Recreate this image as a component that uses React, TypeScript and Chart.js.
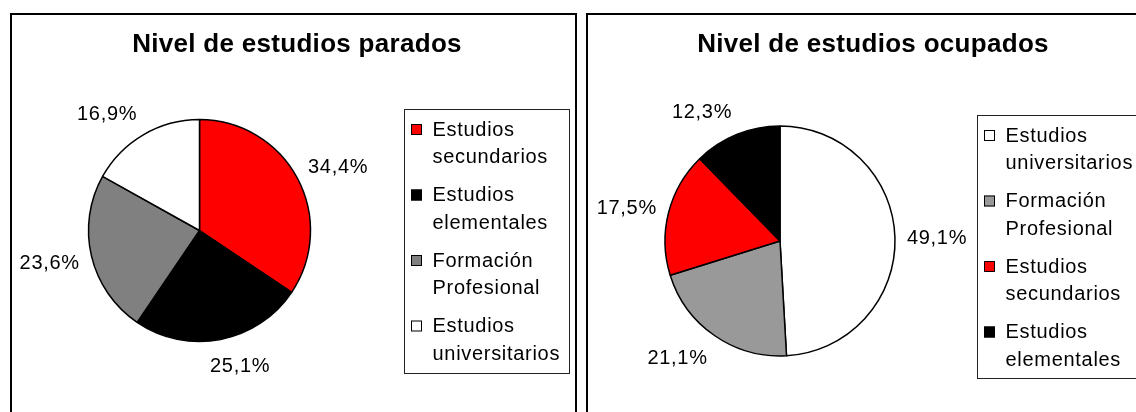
import React, { useEffect, useRef } from "react";
import { Chart, registerables } from "chart.js";

Chart.register(...registerables);

// ---------- data ----------
const paradosTitle = "Nivel de estudios parados";
const paradosCategories = [
  "Estudios secundarios",
  "Estudios elementales",
  "Formación Profesional",
  "Estudios universitarios",
];
const paradosValues = [34.4, 25.1, 23.6, 16.9];
const paradosColors = ["#FF0000", "#000000", "#808080", "#FFFFFF"];

const ocupadosTitle = "Nivel de estudios ocupados";
const ocupadosCategories = [
  "Estudios universitarios",
  "Formación Profesional",
  "Estudios secundarios",
  "Estudios elementales",
];
const ocupadosValues = [49.1, 21.1, 17.5, 12.3];
const ocupadosColors = ["#FFFFFF", "#999999", "#FF0000", "#000000"];

const FONT = "Arial, 'Liberation Sans', sans-serif";

const fmtPct = (v: number) => v.toFixed(1).replace(".", ",") + "%";
const splitLabel = (s: string) => {
  const i = s.indexOf(" ");
  return i < 0 ? [s] : [s.slice(0, i), s.slice(i + 1)];
};

type PanelCfg = {
  title: string;
  categories: string[];
  values: number[];
  colors: string[];
  radius: number;
  padding: { left: number; right: number; top: number; bottom: number };
  legendBox: { x: number; y: number; w: number; h: number };
};

function makeDecorPlugin(cfg: PanelCfg) {
  return {
    id: "panelDecor",
    afterDatasetsDraw(chart: any) {
      const ctx: CanvasRenderingContext2D = chart.ctx;
      ctx.save();
      // title
      ctx.fillStyle = "#000";
      ctx.font = `bold 26px ${FONT}`;
      (ctx as any).letterSpacing = "0.3px";
      ctx.textAlign = "center";
      ctx.textBaseline = "alphabetic";
      ctx.fillText(cfg.title, 285, 37);

      // data labels outside each slice ("outside end" style placement)
      ctx.font = `20px ${FONT}`;
      (ctx as any).letterSpacing = "0.7px";
      const meta = chart.getDatasetMeta(0);
      const gap = 12;
      const boxH = 28;
      const glyphH = 14.5;
      meta.data.forEach((arc: any, i: number) => {
        const p = arc.getProps(["x", "y", "startAngle", "endAngle", "outerRadius"], true);
        const mid = (p.startAngle + p.endAngle) / 2;
        const text = fmtPct(cfg.values[i]);
        const w = ctx.measureText(text).width;
        const R = p.outerRadius + gap;
        const c = Math.cos(mid);
        const s = Math.sin(mid);
        const kx = Math.max(-1, Math.min(1, 3 * c));
        const cx = p.x + c * R + (kx * w) / 2;
        const cy = p.y + s * R + (s * boxH) / 2;
        ctx.textAlign = "center";
        ctx.fillText(text, cx, cy + glyphH / 2);
      });

      // legend box
      const lb = cfg.legendBox;
      ctx.lineWidth = 1;
      ctx.strokeStyle = "#222";
      ctx.strokeRect(lb.x + 0.5, lb.y + 0.5, lb.w, lb.h);
      ctx.textAlign = "left";
      const pitch = 65.5;
      const lineH = 27.7;
      cfg.categories.forEach((cat, i) => {
        const base = lb.y + 26.5 + i * pitch;
        const mx = lb.x + 7;
        const my = base - 11.5;
        ctx.fillStyle = cfg.colors[i];
        ctx.fillRect(mx, my, 11, 11);
        ctx.strokeStyle = "#000";
        ctx.strokeRect(mx + 0.5, my + 0.5, 10, 10);
        ctx.fillStyle = "#000";
        splitLabel(cat).forEach((line, j) => {
          ctx.fillText(line, lb.x + 28.5, base + j * lineH);
        });
      });
      ctx.restore();
    },
  };
}

function PiePanel({ left, cfg }: { left: number; cfg: PanelCfg }) {
  const ref = useRef<HTMLCanvasElement | null>(null);
  useEffect(() => {
    if (!ref.current) return;
    const chart = new Chart(ref.current, {
      type: "pie",
      data: {
        labels: cfg.categories,
        datasets: [
          {
            data: cfg.values,
            backgroundColor: cfg.colors,
            borderColor: "#000000",
            borderWidth: 1.5,
            radius: cfg.radius,
            hoverOffset: 0,
          } as any,
        ],
      },
      options: {
        responsive: false,
        animation: false,
        events: [],
        layout: { padding: cfg.padding },
        plugins: {
          legend: { display: false },
          title: { display: false },
          tooltip: { enabled: false },
        },
      },
      plugins: [makeDecorPlugin(cfg)],
    });
    return () => chart.destroy();
  }, []);
  return (
    <div
      style={{
        position: "absolute",
        left,
        top: 13,
        width: 567,
        height: 420,
        border: "2px solid #000",
        boxSizing: "border-box",
        background: "#fff",
      }}
    >
      <canvas
        ref={ref}
        width={563}
        height={397}
        style={{ position: "absolute", left: 0, top: 0, width: 563, height: 397 }}
      />
    </div>
  );
}

const paradosCfg: PanelCfg = {
  title: paradosTitle,
  categories: paradosCategories,
  values: paradosValues,
  colors: paradosColors,
  radius: 111,
  padding: { left: 0, right: 188, top: 40, bottom: 6 },
  legendBox: { x: 392, y: 94, w: 165, h: 264 },
};

const ocupadosCfg: PanelCfg = {
  title: ocupadosTitle,
  categories: ocupadosCategories,
  values: ocupadosValues,
  colors: ocupadosColors,
  radius: 115,
  padding: { left: 0, right: 179, top: 60, bottom: 5 },
  legendBox: { x: 389, y: 100, w: 165, h: 263 },
};

export default function App() {
  return (
    <div
      style={{
        position: "absolute",
        left: 0,
        top: 0,
        width: 1136,
        height: 412,
        overflow: "hidden",
        background: "#fff",
      }}
    >
      <PiePanel left={10} cfg={paradosCfg} />
      <PiePanel left={586} cfg={ocupadosCfg} />
    </div>
  );
}
